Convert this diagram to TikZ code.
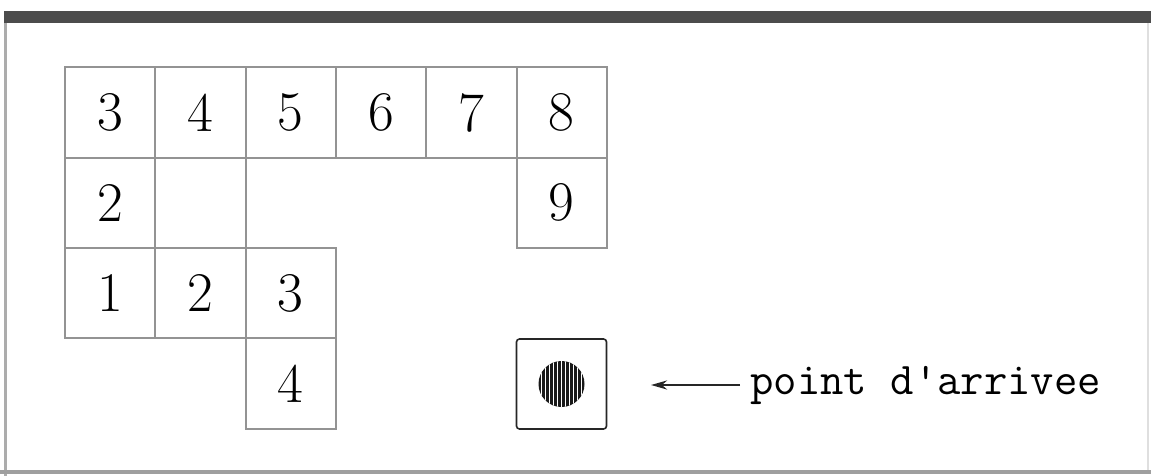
\documentclass[tikz,border=0pt]{standalone}
\usepackage{fontspec}
\usetikzlibrary{positioning,arrows.meta}

\begin{document}
\begin{tikzpicture}[x=0.5pt, y=-0.5pt, node distance=0pt,
      tile/.style={rectangle, draw=gray!85, line width=1pt, minimum size=45.15pt,
                   inner sep=0pt, outer sep=0pt, font=\fontsize{28}{30}\selectfont},
      goal/.style={rectangle, draw=black!85, line width=0.8pt, rounded corners=1.5pt,
                   minimum size=45pt, outer sep=0pt},
      pointer/.style={-{Stealth[length=8pt,width=4.5pt]}, line width=1.4pt, black!85}]
    \useasboundingbox (0,0) rectangle (1151,476);
    % frame
    \draw[line width=1.5pt, gray!65] (5,11) -- (5,476);
    \draw[line width=0.6pt, gray!25] (1148,23) -- (1148,470);
    \draw[line width=2pt, gray!75] (0,472) -- (1151,472);
    \draw[line width=6pt, black!70] (4,17) -- (1151,17);
    % grid of numbered squares
    \foreach \n [count=\i from 0] in {3,...,8}
      \node[tile] (t\n) at ({110.2+90.3*\i},112.5) {\n};
    \node[tile, below=of t3] (m2) {2};
    \node[tile, right=of m2] (m0) {};
    \node[tile, below=of t8] (m9) {9};
    \node[tile, below=of m2] (b1) {1};
    \node[tile, right=of b1] (b2) {2};
    \node[tile, right=of b2] (b3) {3};
    \node[tile, below=of b3] (b4) {4};
    % arrival square
    \node[goal] (goal) at (561.5,384) {};
    \fill[black!90] (goal.center) circle (11.5pt);
    \begin{scope}
      \clip (goal.center) circle (11.5pt);
      \foreach \d in {-5,...,5}
        \draw[white, line width=0.3pt] ([xshift=\d*2pt]goal.center) ++(0,-30) -- ++(0,60);
    \end{scope}
    \node[font=\ttfamily\fontsize{22.7}{25}\selectfont, anchor=west, inner sep=0pt]
      (arr) at (750,385) {point d\textquotesingle arrivee};
    \coordinate (tip) at ([xshift=-49.5pt]arr.west);
    \draw[pointer, shorten <=5pt] (arr.west) -- (tip);
  \end{tikzpicture}
\end{document}
